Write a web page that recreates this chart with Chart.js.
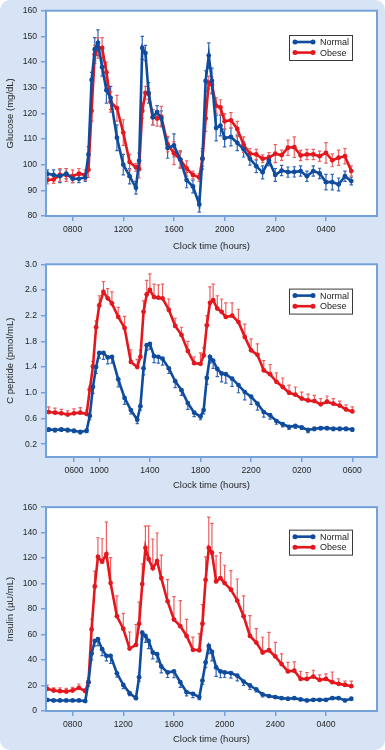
<!DOCTYPE html>
<html>
<head>
<meta charset="utf-8">
<style>
  html, body { margin: 0; padding: 0; background: #fff; }
  #wrap { position: relative; width: 385px; height: 750px; background: #d6e4f6; border-radius: 10px; overflow: hidden; }
  canvas { position: absolute; left: 0; }
</style>
</head>
<body>
<div id="wrap">
  <canvas id="glucose" width="385" height="256" style="top:0px"></canvas>
  <canvas id="cpeptide" width="385" height="250" style="top:250px"></canvas>
  <canvas id="insulin" width="385" height="252" style="top:498px"></canvas>
</div>
<script src="https://cdn.jsdelivr.net/npm/chart.js@4"></script>
<script>
// sample times in hours from midnight of day 1 (30 = 0600 next day)
const times = [6, 6.5, 7, 7.5, 8, 8.5, 9,
  9.25, 9.5, 9.75, 10, 10.33, 10.67, 11, 11.5, 12, 12.5, 13,
  13.25, 13.5, 13.75, 14, 14.33, 14.67, 15, 15.5, 16, 16.5, 17, 17.5, 18,
  18.25, 18.5, 18.75, 19, 19.33, 19.67, 20,
  20.5, 21, 21.5, 22, 22.5, 23, 23.5, 24, 24.5, 25, 25.5, 26, 26.5, 27, 27.5, 28, 28.5, 29, 29.5, 30];

// glucose (mg/dL)
const glucoseNormal = [96.5, 96, 95.5, 96.5, 94.5, 94.5, 95,
  104, 133, 145, 147.5, 138, 129, 126, 110.5, 100, 95.5, 91,
  101.5, 145.5, 143.5, 128, 118.5, 120.5, 118, 106.5, 107.5, 102, 94, 91.5, 84.5,
  102.3, 132.6, 142.5, 132.6, 114.3, 115.2, 110.4,
  110.8, 108.5, 106, 102.3, 99.4, 97, 101.6, 96, 97.7, 97.1, 97.2, 97.5, 95.5, 97.5, 96.6, 93.2, 93.2, 92.3, 95.5, 93.6];
const glucoseObese = [94, 94.2, 96, 96, 95.5, 96.5, 96,
  98, 121, 143, 145.5, 145.5, 136, 124.5, 122, 112.5, 101, 99,
  98.3, 121, 128, 127.5, 118.5, 118, 118.7, 108, 104.5, 102, 98.5, 96, 95,
  102.3, 118, 132, 131.1, 123, 122.3, 116.9,
  117.3, 113.9, 107.8, 104.3, 104, 102.3, 102.7, 104.3, 103.7, 106.6, 106.8, 103.6, 104, 104, 103.3, 104.6, 101.7, 102.7, 103.3, 97.5];
const glucoseNormalSem = [1.5, 2, 2.5, 2, 1.5, 1.5, 1.5,
  3, 3, 4.5, 5, 3.5, 5, 4.5, 5, 4, 3, 2.5,
  3, 4.5, 3, 4, 3, 2.5, 3, 4, 4.5, 3, 3, 2.5, 3,
  4, 4, 5, 5, 5, 4, 3.5,
  3.5, 3, 3, 2.5, 2.5, 2.5, 2, 2.5, 2, 2, 2, 2, 2, 2, 2, 3, 3, 2.5, 2, 1.5];
const glucoseObeseSem = [1.5, 1.5, 2.5, 2.5, 2.5, 2, 2,
  3, 4, 3.5, 4, 4, 4, 4, 5, 5, 3, 1.5,
  3.5, 3, 2.5, 2, 3, 3, 4, 3, 4.5, 3.5, 3, 1.5, 1.5,
  3, 5, 2.5, 3, 3, 3, 3,
  3, 3, 3, 2, 2, 1.5, 2, 3.5, 2, 3, 4, 2, 2, 2, 2, 4, 2.5, 3, 3, 2];

// C peptide (pmol/mL)
const cpeptideNormal = [0.43, 0.42, 0.43, 0.42, 0.41, 0.39, 0.41,
  0.64, 1.09, 1.40, 1.62, 1.62, 1.55, 1.56, 1.21, 0.92, 0.73, 0.58,
  0.79, 1.38, 1.74, 1.76, 1.57, 1.56, 1.53, 1.38, 1.18, 1.04, 0.84, 0.69, 0.63,
  0.73, 1.23, 1.56, 1.50, 1.37, 1.30, 1.29,
  1.22, 1.12, 1.01, 0.94, 0.83, 0.70, 0.65, 0.56, 0.51, 0.47, 0.485, 0.46, 0.42, 0.44, 0.45, 0.45, 0.44, 0.44, 0.44, 0.43];
const cpeptideObese = [0.70, 0.69, 0.68, 0.66, 0.68, 0.69, 0.67,
  1.05, 1.41, 2.02, 2.36, 2.57, 2.47, 2.39, 2.18, 2.01, 1.48, 1.40,
  1.56, 2.26, 2.53, 2.60, 2.49, 2.48, 2.47, 2.29, 2.04, 1.90, 1.65, 1.46, 1.45,
  1.58, 2.05, 2.40, 2.44, 2.31, 2.26, 2.18,
  2.20, 2.10, 1.87, 1.66, 1.59, 1.35, 1.29, 1.17, 1.09, 1.00, 0.97, 0.91, 0.88, 0.87, 0.82, 0.86, 0.83, 0.80, 0.74, 0.71];
const cpeptideNormalSem = [0.03, 0.03, 0.03, 0.03, 0.03, 0.03, 0.03,
  0.06, 0.1, 0.1, 0.08, 0.1, 0.1, 0.1, 0.12, 0.1, 0.06, 0.06,
  0.06, 0.1, 0.08, 0.08, 0.1, 0.1, 0.1, 0.08, 0.1, 0.08, 0.1, 0.06, 0.05,
  0.06, 0.1, 0.1, 0.12, 0.12, 0.13, 0.14,
  0.12, 0.12, 0.12, 0.12, 0.1, 0.08, 0.06, 0.05, 0.04, 0.04, 0.04, 0.03, 0.04, 0.03, 0.03, 0.03, 0.03, 0.03, 0.03, 0.03];
const cpeptideObeseSem = [0.08, 0.07, 0.06, 0.06, 0.07, 0.08, 0.06,
  0.05, 0.08, 0.1, 0.15, 0.16, 0.15, 0.18, 0.15, 0.18, 0.19, 0.12,
  0.1, 0.17, 0.22, 0.25, 0.2, 0.2, 0.22, 0.17, 0.12, 0.12, 0.15, 0.1, 0.17,
  0.12, 0.15, 0.25, 0.25, 0.2, 0.2, 0.22,
  0.2, 0.2, 0.2, 0.18, 0.17, 0.15, 0.15, 0.14, 0.14, 0.12, 0.12, 0.1, 0.1, 0.09, 0.09, 0.09, 0.08, 0.07, 0.07, 0.07];

// insulin (µU/mL)
const insulinNormal = [8.8, 8.3, 8.3, 8.3, 8.3, 8.3, 7.8,
  22.6, 45.1, 55, 56.3, 48.5, 43.3, 43.3, 29.6, 20.5, 14, 10.1,
  26.5, 61.5, 58.9, 55, 45.9, 44.6, 35, 30.3, 31.1, 22.6, 14.8, 13.5, 10.9,
  23.9, 38.1, 51.1, 46.4, 34.2, 31.1, 30.3,
  29.8, 27.7, 23.1, 20, 16.9, 13, 11.7, 10.9, 10.1, 9.6, 10.1, 9.1, 8.3, 8.8, 8.8, 8.8, 10.1, 10.1, 8.3, 9.6];
const insulinObese = [17.4, 16.1, 15.6, 15.3, 16.1, 18.2, 15.6,
  22.6, 64, 97.8, 121, 117.2, 123.2, 100.4, 74.4, 64.6, 49, 51.9,
  68.5, 99.6, 128.1, 119.3, 112, 117.7, 104.3, 86.1, 71.8, 66.6, 58.9, 48, 47.7,
  68.5, 103, 128.1, 124.2, 101.7, 104.3, 100.4,
  95.2, 86.6, 74.4, 58.9, 53.7, 45.9, 47.7, 42.8, 36.8, 31.1, 31.6, 25.2, 25.2, 27, 24.4, 25.2, 22.6, 21.3, 20.5, 19.5];
const insulinNormalSem = [1, 1, 1, 1, 1, 1, 1,
  3, 5, 4, 5, 5, 4, 6, 3, 3, 2, 1,
  3, 5, 5, 6, 5, 6, 5, 4, 5, 4, 3, 3, 2,
  3, 4, 6, 7, 7, 5, 4,
  4, 4, 3, 3, 2, 2, 1, 1, 1, 1, 1, 1, 1, 1, 1, 1, 1, 1, 1, 1];
const insulinObeseSem = [3, 2, 2.5, 2.5, 2.5, 3, 2,
  3, 8, 12, 15, 18, 25, 20, 16, 12, 13, 16,
  17, 16, 17, 26, 23, 22, 18, 17, 18, 20, 13, 10, 13,
  15, 18, 24, 23, 20, 20, 14,
  15, 17, 16, 16, 11, 12, 14, 11, 8, 7, 7, 6, 5, 5, 4, 4, 8, 4, 3, 4];

// axis ticks
const clockTicks = [8, 12, 16, 20, 24, 28];
const clockLabels = ['0800', '1200', '1600', '2000', '2400', '0400'];
const cpepClockTicks = [8, 10, 14, 18, 22, 26, 30];
const cpepClockLabels = ['0600', '1000', '1400', '1800', '2200', '0200', '0600'];
const glucoseTicks = [80, 90, 100, 110, 120, 130, 140, 150, 160];
const cpeptideTicks = [0.2, 0.6, 1.0, 1.4, 1.8, 2.2, 2.6, 3.0];
const insulinTicks = [0, 20, 40, 60, 80, 100, 120, 140, 160];

Chart.defaults.font.family = '"Liberation Sans", Arial, Helvetica, sans-serif';
Chart.defaults.color = '#262626';

const BLUE = '#0f4c9e';
const RED = '#e3171e';
const BLUE_BAR = '#2f66b6';
const RED_BAR = '#ee6060';
const FRAME = '#76a0da';

// white plot area with a light blue frame
const frame = {
  id: 'frame',
  beforeDraw(chart) {
    const { ctx, chartArea: a } = chart;
    ctx.save();
    ctx.fillStyle = '#fff';
    ctx.fillRect(a.left, a.top, a.width, a.height);
    ctx.restore();
  },
  afterDraw(chart) {
    const { ctx, chartArea: a } = chart;
    ctx.save();
    ctx.strokeStyle = FRAME;
    ctx.lineWidth = 2;
    ctx.strokeRect(a.left, a.top, a.width, a.height);
    ctx.restore();
  }
};

// SEM bars, drawn under the lines
const errorBars = {
  id: 'errorBars',
  beforeDatasetsDraw(chart) {
    const { ctx } = chart;
    const yScale = chart.scales.y;
    chart.data.datasets.forEach((ds, i) => {
      const meta = chart.getDatasetMeta(i);
      ctx.save();
      ctx.strokeStyle = ds.barColor;
      ctx.lineWidth = 1.2;
      meta.data.forEach((pt, j) => {
        const v = ds.data[j].y;
        const e = ds.sem[j];
        const hi = ds.barDir === 'down' ? v : v + e;
        const lo = ds.barDir === 'up' ? v : v - e;
        const y1 = yScale.getPixelForValue(hi);
        const y2 = yScale.getPixelForValue(lo);
        ctx.beginPath();
        ctx.moveTo(pt.x, y1);
        ctx.lineTo(pt.x, y2);
        if (ds.barDir !== 'down') { ctx.moveTo(pt.x - 1.7, y1); ctx.lineTo(pt.x + 1.7, y1); }
        if (ds.barDir !== 'up') { ctx.moveTo(pt.x - 1.7, y2); ctx.lineTo(pt.x + 1.7, y2); }
        ctx.stroke();
      });
      ctx.restore();
    });
  }
};

// boxed legend inside the plot, upper right
const boxLegend = {
  id: 'boxLegend',
  afterDraw(chart, args, opts) {
    const { ctx, chartArea: a } = chart;
    const w = 63, h = 25;
    const x0 = a.right - 25 - w;
    const y0 = a.top + opts.top;
    ctx.save();
    ctx.fillStyle = '#fff';
    ctx.fillRect(x0, y0, w, h);
    ctx.strokeStyle = '#3a3a3a';
    ctx.lineWidth = 1;
    ctx.strokeRect(x0 + 0.5, y0 + 0.5, w, h);
    chart.data.datasets.forEach((ds, i) => {
      const ly = y0 + 7 + i * 10.6;
      ctx.strokeStyle = ds.borderColor;
      ctx.lineWidth = 2.6;
      ctx.beginPath();
      ctx.moveTo(x0 + 6, ly);
      ctx.lineTo(x0 + 24, ly);
      ctx.stroke();
      ctx.fillStyle = ds.borderColor;
      [x0 + 6, x0 + 24].forEach(px => {
        ctx.beginPath();
        ctx.arc(px, ly, 2.5, 0, Math.PI * 2);
        ctx.fill();
      });
      ctx.fillStyle = '#222';
      ctx.font = '9px "Liberation Sans", Arial, sans-serif';
      ctx.textBaseline = 'middle';
      ctx.textAlign = 'left';
      ctx.fillText(ds.label, x0 + 31, ly + 0.5);
    });
    ctx.restore();
  }
};

function series(label, ys, sem, color, barColor, barDir) {
  return {
    label,
    data: times.map((t, i) => ({ x: t, y: ys[i] })),
    sem, barColor, barDir,
    borderColor: color,
    backgroundColor: color,
    borderWidth: 2.6,
    pointRadius: 2.4,
    pointBorderWidth: 0,
    tension: 0
  };
}

function panel(id, p) {
  return new Chart(document.getElementById(id), {
    type: 'line',
    data: { datasets: p.datasets },
    options: {
      responsive: false,
      animation: false,
      events: [],
      layout: { padding: p.pad },
      plugins: {
        legend: { display: false },
        tooltip: { enabled: false },
        boxLegend: { top: p.legendTop }
      },
      scales: {
        x: {
          type: 'linear',
          min: p.xMin,
          max: p.xMax,
          afterBuildTicks: s => { s.ticks = p.xTicks.map(v => ({ value: v })); },
          afterFit: s => { s.height = p.xH; },
          ticks: {
            autoSkip: false, maxRotation: 0, padding: 3.2,
            font: { size: 8.6 },
            callback: (v, i) => p.xLabels[i]
          },
          grid: { drawOnChartArea: false, drawTicks: true, tickLength: 5, color: FRAME, lineWidth: 1.5 },
          border: { display: false },
          title: { display: true, text: 'Clock time (hours)', font: { size: 9.5 }, padding: 0 }
        },
        y: {
          min: p.yMin,
          max: p.yMax,
          afterBuildTicks: s => { s.ticks = p.yTicks.map(v => ({ value: v })); },
          afterFit: s => { s.width = 46; },
          ticks: {
            padding: 4,
            font: { size: 8.6 },
            callback: v => p.yFmt(v)
          },
          grid: { drawOnChartArea: false, drawTicks: true, tickLength: 5, color: FRAME, lineWidth: 1.5 },
          border: { display: false },
          title: { display: true, text: p.yTitle, font: { size: 9.5 }, padding: { top: 5, bottom: 0 } }
        }
      }
    },
    plugins: [frame, errorBars, boxLegend]
  });
}

panel('glucose', {
  datasets: [
    series('Normal', glucoseNormal, glucoseNormalSem, BLUE, BLUE_BAR, 'both'),
    series('Obese', glucoseObese, glucoseObeseSem, RED, RED_BAR, 'both')
  ],
  pad: { top: 10.7, right: 8, bottom: 4.3, left: 0 },
  xH: 35.7, xMin: 5.9, xMax: 32.03,
  xTicks: clockTicks, xLabels: clockLabels,
  yMin: 80, yMax: 160, yTicks: glucoseTicks, yFmt: v => String(v),
  yTitle: 'Glucose (mg/dL)', legendTop: 24.3
});

panel('cpeptide', {
  datasets: [
    series('Normal', cpeptideNormal, cpeptideNormalSem, BLUE, BLUE_BAR, 'down'),
    series('Obese', cpeptideObese, cpeptideObeseSem, RED, RED_BAR, 'up')
  ],
  pad: { top: 14.3, right: 8, bottom: 9.3, left: 0 },
  xH: 33.7, xMin: 5.79, xMax: 31.95,
  xTicks: cpepClockTicks, xLabels: cpepClockLabels,
  yMin: 0, yMax: 3.0, yTicks: cpeptideTicks, yFmt: v => v.toFixed(1),
  yTitle: 'C peptide (pmol/mL)', legendTop: 24.3
});

panel('insulin', {
  datasets: [
    series('Normal', insulinNormal, insulinNormalSem, BLUE, BLUE_BAR, 'down'),
    series('Obese', insulinObese, insulinObeseSem, RED, RED_BAR, 'up')
  ],
  pad: { top: 7.3, right: 8, bottom: 5, left: 0 },
  xH: 34, xMin: 5.9, xMax: 32.03,
  xTicks: clockTicks, xLabels: clockLabels,
  yMin: 0, yMax: 160, yTicks: insulinTicks, yFmt: v => String(v),
  yTitle: 'Insulin (\u00b5U/mL)', legendTop: 22.5
});
</script>
</body>
</html>
